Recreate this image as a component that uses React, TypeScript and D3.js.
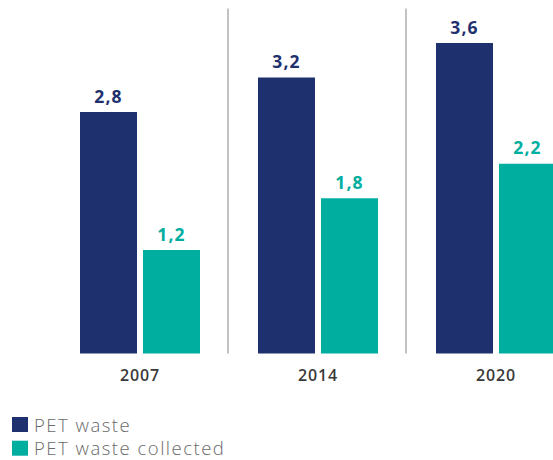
import React from "react";
import * as d3 from "d3";

const years = ["2007", "2014", "2020"];
const seriesNames = ["PET waste", "PET waste collected"];
const petWaste = [2.8, 3.2, 3.6];
const petCollected = [1.2, 1.8, 2.2];
const valueLabels = [["2,8", "3,2", "3,6"], ["1,2", "1,8", "2,2"]];
const colors = ["#1F306E", "#00AEA0"];

const W = 553;
const H = 460;

export default function App() {
  const x0 = d3.scaleBand<string>().domain(years).range([51, 585]).paddingInner(0).paddingOuter(0);
  const x1 = d3
    .scaleBand<string>()
    .domain(seriesNames)
    .range([-60, 60])
    .paddingInner(6 / 63)
    .paddingOuter(0);
  const y = d3.scaleLinear().domain([0, 4]).range([353.5, 8.5]);
  const series = [petWaste, petCollected];
  const font = "'Open Sans', sans-serif";

  const dividers = years.slice(1).map((yr, i) => {
    const a = x0(years[i])! + x0.bandwidth() / 2;
    const b = x0(yr)! + x0.bandwidth() / 2;
    return (a + b) / 2 - 1;
  });

  return (
    <svg
      width={W}
      height={H}
      style={{ position: "absolute", left: 0, top: 0, background: "#fff" }}
    >
      {dividers.map((dx, i) => (
        <line key={i} x1={dx} x2={dx} y1={y(4)} y2={y(0)} stroke="#9a9a9a" strokeWidth={1.2} />
      ))}
      {years.map((yr, i) => {
        const cx = x0(yr)! + x0.bandwidth() / 2;
        return (
          <g key={yr}>
            {series.map((s, si) => {
              const bx = cx + x1(seriesNames[si])!;
              const top = y(s[i]);
              return (
                <g key={si}>
                  <rect x={bx} y={top} width={x1.bandwidth()} height={y(0) - top} fill={colors[si]} />
                  <text
                    x={bx + x1.bandwidth() / 2}
                    y={top - 9.5}
                    textAnchor="middle"
                    fontFamily={font}
                    fontWeight={700}
                    fontSize={17.5}
                    letterSpacing={1.2}
                    fill={colors[si]}
                  >
                    {valueLabels[si][i]}
                  </text>
                </g>
              );
            })}
            <text
              x={cx}
              y={380.7}
              textAnchor="middle"
              fontFamily={font}
              fontWeight={600}
              fontSize={16}
              letterSpacing={0.8}
              fill="#3a3a3a"
            >
              {yr}
            </text>
          </g>
        );
      })}
      {seriesNames.map((name, i) => (
        <g key={name}>
          <rect x={12} y={417 + i * 23.7} width={16} height={15} fill={colors[i]} />
          <text
            x={34}
            y={431.7 + i * 23.5}
            fontFamily={font}
            fontWeight={300}
            fontSize={18.5}
            letterSpacing={1.5}
            fill="#6a6a6a"
          >
            {name}
          </text>
        </g>
      ))}
    </svg>
  );
}
